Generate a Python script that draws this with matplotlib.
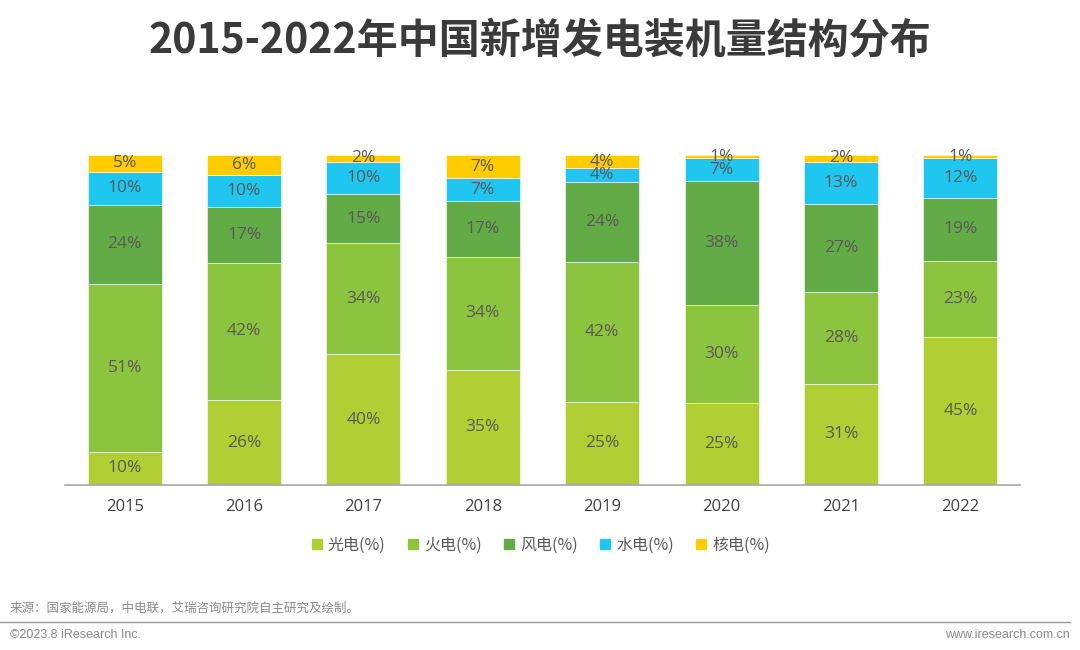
import numpy as np
import matplotlib
matplotlib.use("Agg")
import matplotlib.pyplot as plt
from matplotlib.lines import Line2D

plt.rcParams['font.family'] = ['Noto Sans CJK SC', 'DejaVu Sans']

# data
years = ["2015", "2016", "2017", "2018", "2019", "2020", "2021", "2022"]
solar = [10, 26, 40, 35, 25, 25, 31, 45]
thermal = [51, 42, 34, 34, 42, 30, 28, 23]
wind = [24, 17, 15, 17, 24, 38, 27, 19]
hydro = [10, 10, 10, 7, 4, 7, 13, 12]
nuclear = [5, 6, 2, 7, 4, 1, 2, 1]

series_names = ["光电(%)", "火电(%)", "风电(%)", "水电(%)", "核电(%)"]
colors = ["#b1cf34", "#8cc43f", "#62ab46", "#1fc6f0", "#ffcc00"]

data = np.array([solar, thermal, wind, hydro, nuclear], dtype=float)
shares = data / data.sum(axis=0)

fig = plt.figure(figsize=(10.8, 6.5), dpi=100)
ax = fig.add_axes([65 / 1080, 1 - 485 / 650, 955 / 1080, 330 / 650])

x = np.arange(len(years))
bottom = np.zeros(len(years))
for i, name in enumerate(series_names):
    ax.bar(x, shares[i], 0.62, bottom=bottom, color=colors[i], label=name,
           edgecolor="white", linewidth=0.4)
    for j in range(len(years)):
        ax.text(x[j], bottom[j] + shares[i][j] / 2, f"{int(data[i][j])}%",
                ha="center", va="center", fontsize=12.5, color="#595959",
                family=["Open Sans", "DejaVu Sans"], clip_on=False)
    bottom += shares[i]

ax.set_xlim(-0.5, len(years) - 0.5)
ax.set_ylim(0, 1)
ax.set_xticks(x)
ax.set_xticklabels(years, fontsize=12, color="#404040", family=["Open Sans", "DejaVu Sans"])
ax.tick_params(axis="x", length=0, pad=10)
ax.set_yticks([])
for s in ["top", "right", "left"]:
    ax.spines[s].set_visible(False)
ax.spines["bottom"].set_color("#a6a6a6")
ax.spines["bottom"].set_linewidth(1.2)

# legend
handles = [Line2D([], [], marker="s", linestyle="none", markersize=7,
                  markerfacecolor=c, markeredgecolor=c) for c in colors]
fig.legend(handles, series_names, loc="center", bbox_to_anchor=(0.5, 1 - 545 / 650),
           ncol=5, frameon=False, fontsize=11.5, handlelength=0.8, handletextpad=0.3,
           columnspacing=1.3, labelcolor="#595959")

fig.text(0.5, 1 - 40 / 650, "2015-2022年中国新增发电装机量结构分布", ha="center", va="center",
         fontsize=29.5, fontweight="bold", color="#3a3a3a")

# footer
fig.text(10 / 1080, 1 - 608 / 650, "来源：国家能源局，中电联，艾瑞咨询研究院自主研究及绘制。",
         ha="left", va="center", fontsize=9, color="#8a8a8a")
fig.add_artist(Line2D([0, 1070 / 1080], [1 - 622 / 650] * 2, color="#9a9a9a", linewidth=1))
fig.text(10 / 1080, 1 - 635 / 650, "©2023.8 iResearch Inc.", ha="left", va="center",
         fontsize=9, color="#8a8a8a", family=["Liberation Sans", "DejaVu Sans"])
fig.text(1070 / 1080, 1 - 635 / 650, "www.iresearch.com.cn", ha="right", va="center",
         fontsize=9, color="#8a8a8a", family=["Liberation Sans", "DejaVu Sans"])

fig.savefig("out.png", dpi=100)
